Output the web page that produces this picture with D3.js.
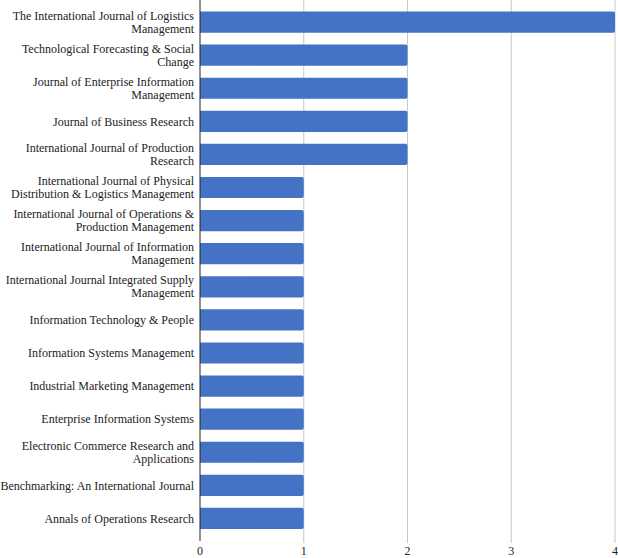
<!DOCTYPE html>
<html>
<head>
  <meta charset="UTF-8">
  <style>
    body { margin: 0; background-color: white; }
    svg text { font-family: 'Liberation Serif', 'Times New Roman', 'DejaVu Serif', serif; font-size: 12px; fill: #222; }
  </style>
</head>
<body>
<svg></svg>
<script src="https://d3js.org/d3.v7.min.js"></script>
<script>

let width = 618, height = 558;

// journals, top to bottom
let journals = [
    "The International Journal of Logistics Management",
    "Technological Forecasting & Social Change",
    "Journal of Enterprise Information Management",
    "Journal of Business Research",
    "International Journal of Production Research",
    "International Journal of Physical Distribution & Logistics Management",
    "International Journal of Operations & Production Management",
    "International Journal of Information Management",
    "International Journal Integrated Supply Management",
    "Information Technology & People",
    "Information Systems Management",
    "Industrial Marketing Management",
    "Enterprise Information Systems",
    "Electronic Commerce Research and Applications",
    "Benchmarking: An International Journal",
    "Annals of Operations Research"
];
let counts = [4, 2, 2, 2, 2, 1, 1, 1, 1, 1, 1, 1, 1, 1, 1, 1];
let xTicks = [0, 1, 2, 3, 4];

let margin = {left: 200, right: 3, top: 5.5, bottom: 23};

let svg = d3.select("svg")
    .attr("width", width)
    .attr("height", height);

let x = d3.scaleLinear()
    .domain([0, 4])
    .range([margin.left, width - margin.right]);

let y = d3.scaleBand()
    .domain(journals)
    .range([margin.top, height - margin.bottom])
    .paddingInner(0.36)
    .paddingOuter(0.18);

// gridlines
svg.append("g")
    .selectAll("line")
    .data(xTicks.slice(1))
    .enter()
    .append("line")
    .attr("x1", d => x(d)).attr("x2", d => x(d))
    .attr("y1", 0).attr("y2", height - 15)
    .attr("stroke", "#c8c8c8")
    .attr("stroke-width", 1);

// bars (rounded at the right end)
svg.append("g")
    .selectAll("path")
    .data(journals)
    .enter()
    .append("path")
    .attr("d", (d, i) => {
        let x0 = x(0), x1 = x(counts[i]), y0 = y(d), h = y.bandwidth(), r = 2;
        return `M${x0},${y0}H${x1 - r}Q${x1},${y0} ${x1},${y0 + r}V${y0 + h - r}Q${x1},${y0 + h} ${x1 - r},${y0 + h}H${x0}Z`;
    })
    .attr("fill", "#4472c4");

// axis line
svg.append("line")
    .attr("x1", x(0)).attr("x2", x(0))
    .attr("y1", 0).attr("y2", height - 17)
    .attr("stroke", "#222")
    .attr("stroke-width", 1);

// tick labels
svg.append("g")
    .selectAll("text")
    .data(xTicks)
    .enter()
    .append("text")
    .attr("x", d => d === 4 ? x(d) + 3 : x(d))
    .attr("y", height - 3)
    .attr("text-anchor", d => d === 4 ? "end" : "middle")
    .text(d => d);

// category labels, wrapped to fit left margin
let maxW = 195;
let labels = svg.append("g")
    .selectAll("text")
    .data(journals)
    .enter()
    .append("text")
    .attr("text-anchor", "end");

labels.each(function(d) {
    let el = d3.select(this);
    let words = d.split(" "), lines = [], cur = "";
    let probe = svg.append("text").attr("visibility", "hidden");
    words.forEach(w => {
        let test = cur ? cur + " " + w : w;
        probe.text(test);
        if (probe.node().getComputedTextLength() > maxW && cur) {
            lines.push(cur);
            cur = w;
        } else {
            cur = test;
        }
    });
    lines.push(cur);
    probe.remove();
    let cy = y(d) + y.bandwidth() / 2;
    let lh = 13;
    let start = cy - (lines.length - 1) * lh / 2;
    lines.forEach((ln, k) => {
        el.append("tspan")
            .attr("x", x(0) - 6)
            .attr("y", start + k * lh)
            .attr("dy", "0.35em")
            .text(ln);
    });
});

</script>
</body>
</html>
